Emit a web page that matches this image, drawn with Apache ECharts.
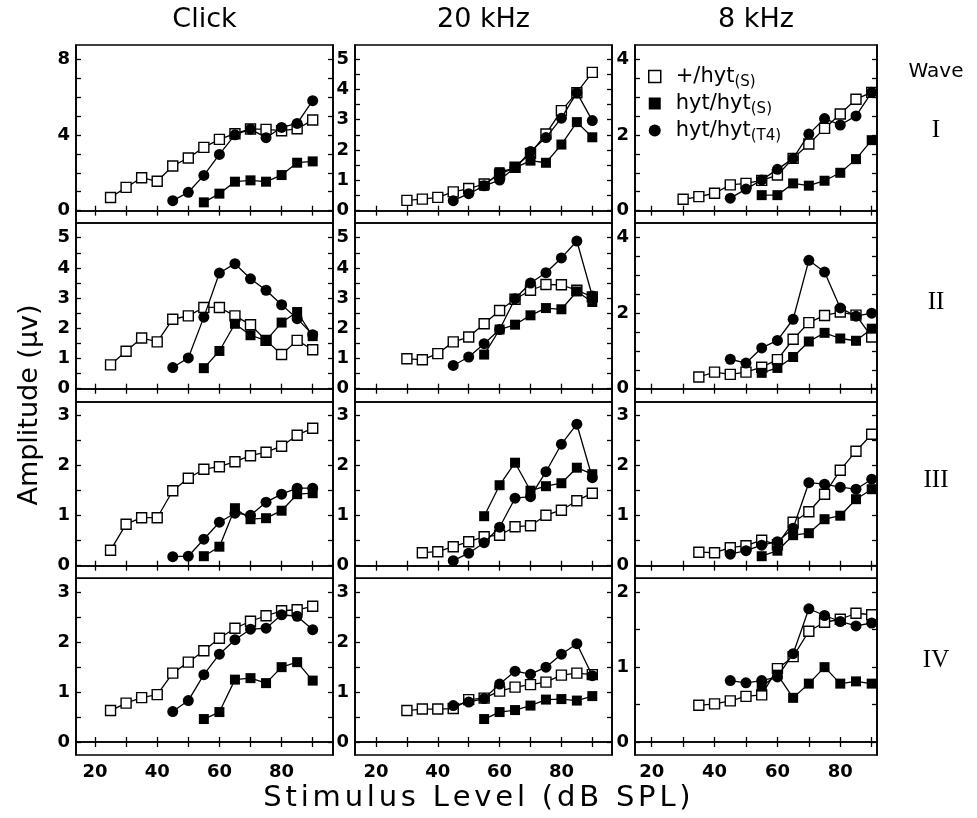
<!DOCTYPE html>
<html><head><meta charset="utf-8">
<script src="https://cdn.jsdelivr.net/npm/echarts@6/dist/echarts.min.js"></script>
<style>html,body{margin:0;padding:0;background:#fff}#c{width:977px;height:818px}</style>
</head><body><div id="c"></div>
<script>
// ---------- data ----------
const columnTitles = ['Click', '20 kHz', '8 kHz'];
const waveLabels = ['I', 'II', 'III', 'IV'];
const seriesNames = ['+/hyt(S)', 'hyt/hyt(S)', 'hyt/hyt(T4)'];
const xTitle = 'Stimulus Level (dB SPL)';
const yTitle = 'Amplitude (\u03bcv)';

const lv25 = [25,30,35,40,45,50,55,60,65,70,75,80,85,90];
const lv30 = [30,35,40,45,50,55,60,65,70,75,80,85,90];
const lv35 = [35,40,45,50,55,60,65,70,75,80,85,90];
const lv45 = [45,50,55,60,65,70,75,80,85,90];
const lv55 = [55,60,65,70,75,80,85,90];

const xTickValues = [20,30,40,50,60,70,80,90];
const xLabelValues = [20,40,60,80];

// y tick labels [row][col]
const yLabelValues = [
  [[0,4,8], [0,1,2,3,4,5], [0,2,4]],
  [[0,1,2,3,4,5], [0,1,2,3,4,5], [0,2,4]],
  [[0,1,2,3], [0,1,2,3], [0,1,2,3]],
  [[0,1,2,3], [0,1,2,3], [0,1,2]]
];
const yTickValues = [
  [[0,1,2,3,4,5,6,7,8], [0,0.5,1,1.5,2,2.5,3,3.5,4,4.5,5], [0,0.5,1,1.5,2,2.5,3,3.5,4]],
  [[0,0.5,1,1.5,2,2.5,3,3.5,4,4.5,5], [0,0.5,1,1.5,2,2.5,3,3.5,4,4.5,5], [0,0.5,1,1.5,2,2.5,3,3.5,4]],
  [[0,0.5,1,1.5,2,2.5,3], [0,0.5,1,1.5,2,2.5,3], [0,0.5,1,1.5,2,2.5,3]],
  [[0,0.5,1,1.5,2,2.5,3], [0,0.5,1,1.5,2,2.5,3], [0,0.5,1,1.5,2]]
];

// Wave I
const clickI_het  = [0.70,1.23,1.74,1.55,2.36,2.78,3.34,3.76,4.06,4.31,4.29,4.22,4.32,4.78];
const clickI_hytS = [0.44,0.90,1.53,1.60,1.53,1.88,2.53,2.60];
const clickI_T4   = [0.53,0.97,1.86,2.97,4.00,4.30,3.85,4.39,4.60,5.80];
const k20I_het  = [0.34,0.38,0.44,0.62,0.73,0.88,1.20,1.43,1.89,2.53,3.30,3.89,4.56];
const k20I_hytS = [0.82,1.27,1.41,1.65,1.58,2.18,2.92,2.42];
const k20I_T4   = [0.33,0.56,0.82,1.01,1.42,1.95,2.41,3.05,3.89,2.97];
const k8I_het  = [0.30,0.37,0.46,0.68,0.72,0.80,0.94,1.38,1.76,2.17,2.55,2.94,3.12];
const k8I_hytS = [0.41,0.41,0.72,0.66,0.79,1.00,1.36,1.86];
const k8I_T4   = [0.33,0.57,0.81,1.09,1.38,2.02,2.43,2.26,2.50,3.12];
// Wave II
const clickII_het  = [0.79,1.24,1.68,1.55,2.30,2.41,2.69,2.69,2.41,2.12,1.60,1.13,1.60,1.29];
const clickII_hytS = [0.68,1.25,2.15,1.77,1.59,2.19,2.54,1.74];
const clickII_T4   = [0.70,1.02,2.37,3.83,4.14,3.64,3.26,2.78,2.32,1.79];
const k20II_het  = [0.99,0.96,1.16,1.55,1.71,2.15,2.59,2.96,3.26,3.45,3.44,3.26,3.04];
const k20II_hytS = [1.13,1.96,2.12,2.43,2.67,2.63,3.22,2.87];
const k20II_T4   = [0.77,1.05,1.49,1.96,2.98,3.50,3.84,4.33,4.89,3.07];
const k8II_het  = [0.31,0.44,0.38,0.44,0.57,0.77,1.31,1.75,1.94,2.03,1.95,1.37];
const k8II_hytS = [0.42,0.55,0.84,1.25,1.48,1.33,1.27,1.59];
const k8II_T4   = [0.78,0.68,1.08,1.28,1.84,3.40,3.09,2.14,1.92,2.00];
// Wave III
const clickIII_het  = [0.31,0.83,0.96,0.96,1.50,1.75,1.93,1.98,2.08,2.20,2.27,2.39,2.61,2.75];
const clickIII_hytS = [0.19,0.38,1.15,0.93,0.95,1.10,1.43,1.45];
const clickIII_T4   = [0.18,0.19,0.53,0.87,1.05,1.01,1.27,1.43,1.55,1.55];
const k20III_het  = [0.26,0.28,0.38,0.48,0.58,0.61,0.78,0.80,1.01,1.11,1.30,1.45];
const k20III_hytS = [0.99,1.61,2.06,1.50,1.59,1.65,1.96,1.83];
const k20III_T4   = [0.10,0.25,0.46,0.77,1.35,1.38,1.88,2.43,2.83,1.76];
const k8III_het  = [0.27,0.26,0.36,0.40,0.51,0.42,0.87,1.08,1.43,1.91,2.29,2.63];
const k8III_hytS = [0.19,0.30,0.61,0.65,0.93,1.00,1.33,1.53];
const k8III_T4   = [0.23,0.30,0.41,0.48,0.75,1.66,1.63,1.57,1.53,1.73];
// Wave IV
const clickIV_het  = [0.63,0.78,0.89,0.95,1.38,1.60,1.83,2.08,2.28,2.42,2.53,2.63,2.65,2.72];
const clickIV_hytS = [0.46,0.60,1.25,1.28,1.18,1.50,1.60,1.23];
const clickIV_T4   = [0.61,0.83,1.35,1.76,2.05,2.26,2.28,2.55,2.52,2.25];
const k20IV_het  = [0.63,0.66,0.66,0.67,0.85,0.88,1.02,1.10,1.15,1.20,1.34,1.38,1.35];
const k20IV_hytS = [0.46,0.60,0.64,0.73,0.85,0.86,0.83,0.92];
const k20IV_T4   = [0.73,0.80,0.87,1.16,1.42,1.36,1.50,1.76,1.97,1.33];
const k8IV_het  = [0.49,0.51,0.55,0.61,0.63,0.98,1.14,1.48,1.60,1.64,1.72,1.70];
const k8IV_hytS = [0.74,0.90,0.59,0.78,1.00,0.78,0.81,0.78];
const k8IV_T4   = [0.82,0.79,0.82,0.87,1.18,1.78,1.69,1.61,1.55,1.59];

const panels = [
  [[[lv25, clickI_het],[lv55, clickI_hytS],[lv45, clickI_T4]],
   [[lv30, k20I_het],[lv55, k20I_hytS],[lv45, k20I_T4]],
   [[lv30, k8I_het],[lv55, k8I_hytS],[lv45, k8I_T4]]],
  [[[lv25, clickII_het],[lv55, clickII_hytS],[lv45, clickII_T4]],
   [[lv30, k20II_het],[lv55, k20II_hytS],[lv45, k20II_T4]],
   [[lv35, k8II_het],[lv55, k8II_hytS],[lv45, k8II_T4]]],
  [[[lv25, clickIII_het],[lv55, clickIII_hytS],[lv45, clickIII_T4]],
   [[lv35, k20III_het],[lv55, k20III_hytS],[lv45, k20III_T4]],
   [[lv35, k8III_het],[lv55, k8III_hytS],[lv45, k8III_T4]]],
  [[[lv25, clickIV_het],[lv55, clickIV_hytS],[lv45, clickIV_T4]],
   [[lv30, k20IV_het],[lv55, k20IV_hytS],[lv45, k20IV_T4]],
   [[lv35, k8IV_het],[lv55, k8IV_hytS],[lv45, k8IV_T4]]]
];

// ---------- layout ----------
const colLeft = [76, 355, 635], colRight = [333, 612, 877];
const colX20 = [95, 376, 651.7], colX90 = [312.7, 592.3, 871.7];
const rowTop = [45, 223, 402, 578.3], rowBottom = [223, 402, 578.3, 755];
const rowYT = [59, 237.7, 415.7, 592.3], rowY0 = [210.7, 388.7, 565.7, 742];

const FONT = 'DejaVu Sans';
const lineW = 1.6;

const grids = [], xAxes = [], yAxes = [], series = [];
const styles = [
  {symbol: 'rect', symbolSize: 10, itemStyle: {color: '#fff', borderColor: '#000', borderWidth: 1.4}, z: 3},
  {symbol: 'rect', symbolSize: 10, itemStyle: {color: '#000', borderColor: '#000', borderWidth: 0}, z: 4},
  {symbol: 'circle', symbolSize: 11, itemStyle: {color: '#000', borderColor: '#000', borderWidth: 0}, z: 5}
];

let gi = 0;
for (let r = 0; r < 4; r++) {
  for (let c = 0; c < 3; c++) {
    const left = colLeft[c], right = colRight[c], top = rowTop[r], bottom = rowBottom[r];
    grids.push({left: left, top: top, width: right - left, height: bottom - top,
      show: true, borderColor: '#000', borderWidth: lineW, backgroundColor: 'transparent', containLabel: false});
    const ppx = (colX90[c] - colX20[c]) / 70;
    const xmin = 20 - (colX20[c] - left) / ppx;
    const xmax = 90 + (right - colX90[c]) / ppx;
    const labs = yLabelValues[r][c];
    const T = labs[labs.length - 1];
    const ppy = (rowY0[r] - rowYT[r]) / T;
    const ymax = T + (rowYT[r] - top) / ppy;
    const ymin = -(bottom - rowY0[r]) / ppy;

    const axLine = {show: true, lineStyle: {color: '#000', width: lineW}};
    const tickSty = {color: '#000', width: 1.3};
    ['bottom', 'top'].forEach(pos => {
      xAxes.push({gridIndex: gi, type: 'value', min: xmin, max: xmax, position: pos,
        axisLine: axLine, splitLine: {show: false},
        axisTick: {show: true, inside: true, length: 5, customValues: xTickValues, lineStyle: tickSty},
        axisLabel: {show: pos === 'bottom' && r === 3, customValues: xLabelValues, margin: 8,
          fontFamily: FONT, fontSize: 18, fontWeight: 'bold', color: '#000'}
      });
    });
    ['left', 'right'].forEach(pos => {
      yAxes.push({gridIndex: gi, type: 'value', min: ymin, max: ymax, position: pos,
        axisLine: axLine, splitLine: {show: false},
        axisTick: {show: true, inside: true, length: 5, customValues: yTickValues[r][c], lineStyle: tickSty},
        axisLabel: {show: pos === 'left', customValues: labs, margin: 6,
          fontFamily: FONT, fontSize: 18, fontWeight: 'bold', color: '#000'}
      });
    });

    panels[r][c].forEach((pair, si) => {
      const lv = pair[0], vals = pair[1];
      series.push(Object.assign({
        type: 'line', name: seriesNames[si],
        xAxisIndex: gi * 2, yAxisIndex: gi * 2,
        data: lv.map((x, k) => [x, vals[k]]),
        showAllSymbol: true, clip: false, animation: false,
        lineStyle: {color: '#000', width: 1.3},
        emphasis: {disabled: true}
      }, styles[si]));
    });
    gi++;
  }
}

const graphics = [];
columnTitles.forEach((t, c) => {
  graphics.push({type: 'text', x: (colLeft[c] + colRight[c]) / 2, y: 20,
    style: {text: t, fontFamily: FONT, fontSize: 27, fill: '#000', align: 'center', verticalAlign: 'middle'}});
});
// x-axis title, slightly tracked as in the reference
graphics.push({type: 'text', x: 477, y: 798,
  style: {text: xTitle.split('').map(ch => '{c|' + ch + '}').join(''),
    fontFamily: FONT, fontSize: 29, fill: '#000', align: 'center', verticalAlign: 'middle',
    rich: {c: {fontFamily: FONT, fontSize: 29, fill: '#000', padding: [0, 1.9, 0, 1.9]}}}});
graphics.push({type: 'text', x: 30, y: 405, rotation: Math.PI / 2,
  style: {text: yTitle, fontFamily: FONT, fontSize: 27, fill: '#000', align: 'center', verticalAlign: 'middle'}});
graphics.push({type: 'text', x: 936, y: 72,
  style: {text: 'Wave', fontFamily: FONT, fontSize: 20, fill: '#000', align: 'center', verticalAlign: 'middle'}});
const waveY = [130, 302, 480, 660];
waveLabels.forEach((w, i) => {
  graphics.push({type: 'text', x: 936, y: waveY[i],
    style: {text: w, fontFamily: 'Liberation Serif', fontSize: 25, fill: '#000', align: 'center', verticalAlign: 'middle'}});
});

const option = {
  animation: false,
  backgroundColor: '#fff',
  grid: grids, xAxis: xAxes, yAxis: yAxes, series: series,
  legend: {
    orient: 'vertical', left: 643, top: 58, itemGap: 0, itemWidth: 12, itemHeight: 12,
    selectedMode: false,
    data: [
      {name: seriesNames[0], icon: 'rect', itemStyle: {color: '#fff', borderColor: '#000', borderWidth: 1.5}},
      {name: seriesNames[1], icon: 'rect', itemStyle: {color: '#000', borderWidth: 0}},
      {name: seriesNames[2], icon: 'circle', itemStyle: {color: '#000', borderWidth: 0}}
    ],
    formatter: function (name) {
      const m = name.match(/^(.*)\((.*)\)$/);
      return m[1] + '{s|(' + m[2] + ')}';
    },
    textStyle: {fontFamily: FONT, fontSize: 21, color: '#000', lineHeight: 27, padding: [0, 0, 0, 10],
      rich: {s: {fontFamily: FONT, fontSize: 15, color: '#000', verticalAlign: 'bottom'}}}
  },
  graphic: graphics
};

const chart = echarts.init(document.getElementById('c'), null, {renderer: 'canvas'});
chart.setOption(option);
</script>
</body></html>
